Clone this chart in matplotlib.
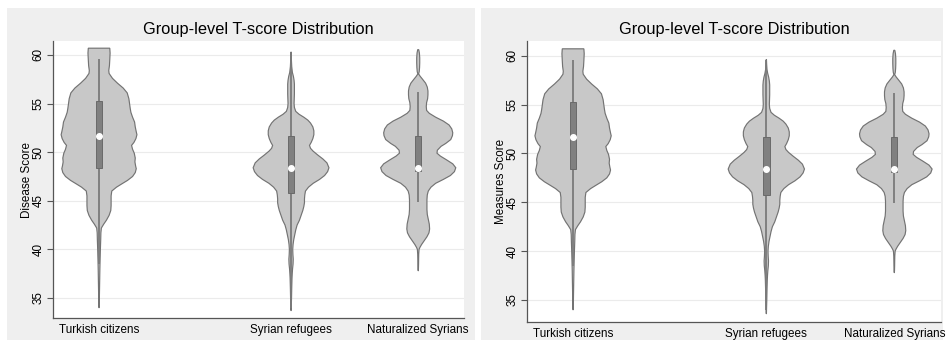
import matplotlib
matplotlib.use("Agg")
import matplotlib.pyplot as plt
from matplotlib.patches import Rectangle
import numpy as np

plt.rcParams['font.family'] = ['Liberation Sans', 'DejaVu Sans']

groups = ["Turkish citizens", "Syrian refugees", "Naturalized Syrians"]
y_ticks = [35, 40, 45, 50, 55, 60]

# violin outlines: score levels and relative half-widths
turk_y = [60.7, 60.2, 59.5, 58.9, 58.4, 58.1, 57.6, 57.1, 56.6, 56.1, 55.5, 55.0, 54.5,
          54.1, 53.6, 53.1, 52.6, 52.1, 51.8, 51.4, 51.0, 50.7, 50.3, 49.9, 49.4, 49.0,
          48.6, 48.3, 47.9, 47.5, 47.1, 46.7, 46.4, 46.0, 45.5, 45.0, 44.5, 44.0, 43.5,
          43.0, 42.6, 42.2, 41.7, 41.0, 40.0, 39.0, 38.0, 37.0, 36.0, 35.0, 34.0]
turk_w = [32, 33, 32, 31, 29, 30, 40, 55, 72, 84, 89, 91, 93,
          95, 100, 106, 108, 111, 113, 110, 104, 97, 100, 105, 108, 107,
          109, 111, 108, 100, 85, 66, 52, 38, 36, 36, 36, 35, 30,
          22, 14, 7, 5.5, 5, 4, 3.2, 2.5, 2, 1.5, 1, 0.4]

syr_y = [60.3, 59.5, 58.8, 58.2, 57.8, 57.4, 57.0, 56.5, 56.0, 55.5, 55.0, 54.6, 54.2,
         53.9, 53.6, 53.3, 53.0, 52.6, 52.2, 51.8, 51.4, 51.0, 50.7, 50.4, 50.1, 49.7,
         49.3, 48.9, 48.4, 48.0, 47.6, 47.2, 46.8, 46.4, 46.0, 45.6, 45.2, 44.8, 44.4,
         44.0, 43.5, 43.0, 42.5, 42.0, 41.5, 41.0, 40.5, 40.0, 39.5, 39.0, 38.5, 38.0,
         37.5, 37.0, 36.0, 35.0, 34.3, 33.7]
syr_w = [0.4, 1, 2, 4, 7, 9, 10, 10, 10, 9.5, 9, 10, 14,
         24, 38, 50, 58, 65, 68, 68, 65, 60, 55, 58, 66, 80,
         95, 107, 113, 109, 100, 85, 66, 52, 43, 41, 40, 40, 38,
         35, 30, 25, 18, 14, 11, 8, 6, 5, 5.5, 6.5, 6, 4.5,
         3.5, 2.8, 2, 1.4, 0.8, 0.3]

# measures panel: refugees' upper tail is a bit shorter
syr_m_y = [59.6, 59.1, 58.6, 58.2, 57.8, 57.4, 57.0, 56.5, 56.0, 55.5, 55.0, 54.6, 54.2,
           53.9, 53.6, 53.3, 53.0, 52.6, 52.2, 51.8, 51.4, 51.0, 50.7, 50.4, 50.1, 49.7,
           49.3, 48.9, 48.4, 48.0, 47.6, 47.2, 46.8, 46.4, 46.0, 45.6, 45.2, 44.8, 44.4,
           44.0, 43.5, 43.0, 42.5, 42.0, 41.5, 41.0, 40.5, 40.0, 39.5, 39.0, 38.5, 38.0,
           37.5, 37.0, 36.0, 35.0, 34.3, 33.6]

nat_y = [60.55, 60.2, 59.7, 59.2, 58.7, 58.3, 58.05, 57.8, 57.5, 57.1, 56.7, 56.3, 55.9,
         55.5, 55.1, 54.7, 54.3, 54.0, 53.6, 53.2, 52.8, 52.4, 52.0, 51.7, 51.3, 50.9,
         50.6, 50.2, 49.9, 49.6, 49.2, 48.8, 48.4, 48.0, 47.6, 47.2, 46.8, 46.4, 46.0,
         45.6, 45.1, 44.6, 44.1, 43.6, 43.1, 42.6, 42.1, 41.7, 41.3, 40.9, 40.5, 40.2,
         40.0, 39.5, 39.0, 38.5, 38.0, 37.8]
nat_w = [1.5, 3.5, 4.5, 4.5, 4, 3, 1.2, 6, 13, 22, 27, 29, 29,
         28, 25, 24, 25, 33, 52, 75, 92, 100, 103, 102, 97, 82,
         68, 57, 56, 66, 85, 103, 112, 108, 96, 75, 52, 38, 30,
         27, 26, 26, 26, 27, 30, 33, 34, 32, 26, 18, 10, 5,
         2.5, 1.5, 1.2, 1, 0.6, 0.2]

# box stats: q1, median, q3, lower whisker, upper whisker
turk_box = [48.42, 51.68, 55.31, 38.5, 59.55]
syr_box = [45.75, 48.42, 51.68, 34.0, 60.3]
syr_m_box = [45.75, 48.42, 51.68, 34.0, 59.6]
nat_box = [48.08, 48.42, 51.71, 44.9, 56.2]

panels = [
    ("Disease Score", [(turk_y, turk_w, turk_box), (syr_y, syr_w, syr_box), (nat_y, nat_w, nat_box)]),
    ("Measures Score", [(turk_y, turk_w, turk_box), (syr_m_y, syr_w, syr_m_box), (nat_y, nat_w, nat_box)]),
]

positions = [1.0, 2.51, 3.51]
HALF = 0.298
BOX_HALF = 0.025

fig = plt.figure(figsize=(9.46, 3.42), dpi=100)
fig.patch.set_facecolor("white")
W, H = 946, 342
for x0, x1 in [(7, 475), (481, 943)]:
    fig.add_artist(Rectangle((x0 / W, 1 - 340 / H), (x1 - x0) / W, 332 / H,
                             transform=fig.transFigure, facecolor="#efefef",
                             edgecolor="none", zorder=0))

rects = [[53 / W, 1 - 318 / H, 411 / W, 277 / H],
         [527 / W, 1 - 322 / H, 414 / W, 281 / H]]
ylims = [(32.94, 61.44), (32.75, 61.5)]
xlims = [(0.638, 3.87), (0.64, 3.875)]

for rect, ylim, xlim, (ylabel, data) in zip(rects, ylims, xlims, panels):
    ax = fig.add_axes(rect)
    ax.set_facecolor("white")
    for pos, (ys, ws, box) in zip(positions, data):
        ys = np.array(ys)
        ws = np.array(ws, dtype=float)
        w = ws / 113.0 * HALF
        xs = np.concatenate([pos - w, (pos + w)[::-1]])
        yy = np.concatenate([ys, ys[::-1]])
        ax.fill(xs, yy, facecolor="#c8c8c8", edgecolor="#737373", lw=0.85, zorder=2)
        q1, med, q3, lo, hi = box
        ax.plot([pos, pos], [lo, hi], color="#7a7a7a", lw=1.3, zorder=3,
                solid_capstyle="butt")
        ax.add_patch(Rectangle((pos - BOX_HALF, q1), 2 * BOX_HALF, q3 - q1,
                               facecolor="#808080", edgecolor="#6a6a6a", lw=0.7, zorder=4))
        ax.plot([pos], [med], marker="o", ms=4, color="white", mec="white", zorder=5)

    ax.set_xlim(*xlim)
    ax.set_ylim(*ylim)
    ax.set_yticks(y_ticks)
    ax.set_yticklabels([str(t) for t in y_ticks], rotation=90, va="center", fontsize=8.4)
    ax.set_xticks(positions)
    ax.set_xticklabels(groups, fontsize=8.4)
    ax.tick_params(axis="x", length=0, pad=4)
    ax.tick_params(axis="y", length=4, width=0.8, color="#555555", pad=2)
    ax.grid(axis="y", color="#ebebeb", lw=0.8, zorder=0)
    ax.set_axisbelow(True)
    for s in ["top", "right"]:
        ax.spines[s].set_visible(False)
    for s in ["left", "bottom"]:
        ax.spines[s].set_color("#555555")
        ax.spines[s].set_linewidth(0.9)
    ax.set_ylabel(ylabel, fontsize=8.4, labelpad=0)
    ax.set_title("Group-level T-score Distribution", fontsize=11.8, pad=5)

fig.savefig("out.png", dpi=100, facecolor=fig.get_facecolor())
